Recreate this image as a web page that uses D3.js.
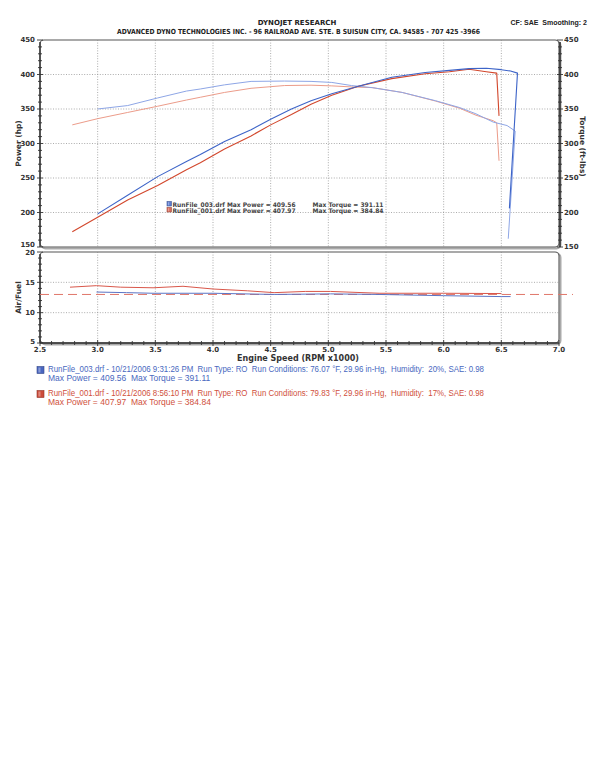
<!DOCTYPE html>
<html><head><meta charset="utf-8">
<script src="https://cdn.jsdelivr.net/npm/d3@7"></script>
<style>
html,body{margin:0;padding:0;background:#fff;}
svg text{font-family:"DejaVu Sans",Verdana,sans-serif;white-space:pre;}
</style></head>
<body><svg id="c" width="594" height="768"></svg>
<script>
// ---- data ----
const bluePowerRpm = [3.00,3.26,3.52,3.77,3.89,4.10,4.33,4.50,4.68,4.85,5.03,5.26,5.55,5.84,6.05,6.22,6.37,6.50,6.58,6.64,6.57];
const bluePowerHp  = [198,225,252,274,284,303,320,335,350,362,372,383,396,403,406,408.5,409,407,405,402,206];
const blueTorqueRpm= [3.00,3.26,3.52,3.77,3.89,4.10,4.33,4.62,4.85,5.03,5.20,5.38,5.64,5.93,6.14,6.28,6.43,6.55,6.62,6.56];
const blueTorque   = [350,355,366,376,379,385,390,390.5,390,388.5,384,381,374,362,352,343,331,326,318,162];
const redPowerRpm  = [2.78,3.00,3.26,3.52,3.77,3.89,4.10,4.33,4.50,4.68,4.85,5.03,5.26,5.55,5.84,6.05,6.22,6.37,6.46,6.48];
const redPowerHp   = [172,193,218,239,262,272,292,311,327,342,357,370,383,394,401,404,407.5,404,402,340];
const redTorqueRpm = [2.78,3.00,3.26,3.52,3.77,3.89,4.10,4.33,4.62,4.85,5.03,5.20,5.38,5.64,5.93,6.14,6.28,6.43,6.46,6.48];
const redTorque    = [327,336,345,354,363,367,374,380,384,384.5,383.5,382,381,374,361.5,351,341,333,330,275];
const blueAfrRpm   = [2.99,3.25,3.48,4.00,4.53,5.02,5.44,6.00,6.50,6.58];
const blueAfr      = [13.4,13.3,13.2,13.2,13.0,13.1,13.0,12.8,12.65,12.65];
const redAfrRpm    = [2.76,2.99,3.20,3.48,3.74,4.00,4.30,4.53,4.80,5.02,5.44,6.00,6.50];
const redAfr       = [14.2,14.45,14.2,14.1,14.35,13.9,13.6,13.3,13.5,13.5,13.2,13.2,13.15];
const afrTarget    = 13.0;
const powerTicks   = [150,200,250,300,350,400,450];
const afrTicks     = [5,10,15,20];
const rpmTicks     = [2.5,3.0,3.5,4.0,4.5,5.0,5.5,6.0,6.5,7.0];
const titleLines   = ["DYNOJET RESEARCH","ADVANCED DYNO TECHNOLOGIES INC. - 96 RAILROAD AVE. STE. B SUISUN CITY, CA. 94585 - 707 425 -3966"];
const cornerText   = "CF: SAE  Smoothing: 2";
const runNames     = ["RunFile_003.drf","RunFile_001.drf"];
const maxPower     = ["409.56","407.97"];
const maxTorque    = ["391.11","384.84"];
const runInfo      = ["RunFile_003.drf - 10/21/2006 9:31:26 PM  Run Type: RO  Run Conditions: 76.07 °F, 29.96 in-Hg,  Humidity:  20%, SAE: 0.98",
                      "RunFile_001.drf - 10/21/2006 8:56:10 PM  Run Type: RO  Run Conditions: 79.83 °F, 29.96 in-Hg,  Humidity:  17%, SAE: 0.98"];

// ---- layout ----
const svg = d3.select("#c");
const L=40, R=559, UT=40, UB=247, LT=252, LB=343;
const x = d3.scaleLinear().domain([2.5,7.0]).range([L,R]);
const yP = d3.scaleLinear().domain([150,450]).range([UB,UT]);
const yT = d3.scaleLinear().domain([150,450]).range([UB,UT]);
const yA = d3.scaleLinear().domain([5,20]).range([LB,LT]);

const BLUE="#3d64c8", BLUE_L="#8ea6e6", RED="#d2472c", RED_L="#ec9c8a";

// titles
svg.append("text").attr("x",297).attr("y",25).attr("text-anchor","middle")
  .attr("font-size",7).attr("font-weight","bold").attr("fill","#222").text(titleLines[0]);
svg.append("text").attr("x",117).attr("y",34).attr("textLength",363).attr("lengthAdjust","spacingAndGlyphs")
  .attr("font-size",7).attr("font-weight","bold").attr("fill","#222").text(titleLines[1]);
svg.append("text").attr("x",587).attr("y",25).attr("text-anchor","end")
  .style("font-family","'Liberation Sans',Arial,sans-serif")
  .attr("font-size",7).attr("font-weight","bold").attr("fill","#222").text(cornerText);

// panel frames
function frame(t,b){
  svg.append("rect").attr("x",L+1.5).attr("y",t+1.5).attr("width",R-L).attr("height",b-t)
    .attr("rx",4).attr("fill","none").attr("stroke","#aaa").attr("stroke-width",2);
  svg.append("rect").attr("x",L).attr("y",t).attr("width",R-L).attr("height",b-t)
    .attr("rx",4).attr("fill","#fff").attr("stroke","#555").attr("stroke-width",1.1);
}
frame(UT,UB); frame(LT,LB);

// grids
const grid = svg.append("g").attr("stroke","#888").attr("stroke-width",0.7).attr("stroke-dasharray","1,1.6");
rpmTicks.filter(v=>v>2.5&&v<7).forEach(v=>{
  grid.append("line").attr("x1",x(v)).attr("x2",x(v)).attr("y1",UT).attr("y2",UB);
  grid.append("line").attr("x1",x(v)).attr("x2",x(v)).attr("y1",LT).attr("y2",LB);
});
powerTicks.filter(v=>v>150&&v<450).forEach(v=>{
  grid.append("line").attr("x1",L).attr("x2",R).attr("y1",yP(v)).attr("y2",yP(v));
});
afrTicks.filter(v=>v>5&&v<20).forEach(v=>{
  grid.append("line").attr("x1",L).attr("x2",R).attr("y1",yA(v)).attr("y2",yA(v));
});

// axes
function tickAxis(g, scale, minorStep, majorVals, orient){
  const [d0,d1] = scale.domain();
  const n = Math.round((d1-d0)/minorStep);
  for(let i=0;i<=n;i++){
    const v=d0+i*minorStep, p=scale(v);
    const major = majorVals.some(m=>Math.abs(m-v)<1e-6);
    const len = major?3:2;
    if(orient==="v") g.append("line").attr("x1",-len).attr("x2",len).attr("y1",p).attr("y2",p);
    else g.append("line").attr("y1",-len).attr("y2",len).attr("x1",p).attr("x2",p);
  }
}
const axStyle = g=>g.attr("stroke","#333").attr("stroke-width",0.9);
let g = svg.append("g").attr("transform",`translate(${L},0)`).call(axStyle);
g.append("line").attr("y1",UT+2).attr("y2",UB).attr("stroke-width",1.4);
tickAxis(g,yP,10,powerTicks,"v");
g = svg.append("g").attr("transform",`translate(${R+1},0)`).call(axStyle);
g.append("line").attr("y1",UT+2).attr("y2",UB).attr("stroke-width",1.6);
tickAxis(g,yT,10,powerTicks,"v");
g = svg.append("g").attr("transform",`translate(${L},0)`).call(axStyle);
g.append("line").attr("y1",LT+2).attr("y2",LB).attr("stroke-width",1.4);
tickAxis(g,yA,1,afrTicks,"v");
g = svg.append("g").attr("transform",`translate(0,${LB})`).call(axStyle);
g.append("line").attr("x1",L).attr("x2",R).attr("stroke-width",1.4);
tickAxis(g,x,0.1,rpmTicks,"h");

// tick labels
const tl = svg.append("g").attr("font-size",7).attr("font-weight","bold").attr("fill","#333");
powerTicks.forEach(v=>{
  const off = v===150?-2.5:0;
  tl.append("text").attr("x",L-5).attr("y",yP(v)+off).attr("dy","0.35em").attr("text-anchor","end").text(v);
  tl.append("text").attr("x",R+5).attr("y",yT(v)).attr("dy","0.35em").attr("text-anchor","start").text(v);
});
afrTicks.forEach(v=>{
  const off = v===20?1:(v===5?-1:0);
  tl.append("text").attr("x",L-5).attr("y",yA(v)+off).attr("dy","0.35em").attr("text-anchor","end").text(v);
});
rpmTicks.forEach(v=>{
  tl.append("text").attr("x",x(v)).attr("y",LB+9).attr("text-anchor","middle").text(v.toFixed(1));
});

// axis titles
const at = svg.append("g").attr("font-size",7.5).attr("font-weight","bold").attr("fill","#333");
at.append("text").attr("transform",`translate(21,${(UT+UB)/2}) rotate(-90)`).attr("text-anchor","middle").text("Power (hp)");
at.append("text").attr("transform",`translate(580,${(UT+UB)/2+3}) rotate(90)`).attr("text-anchor","middle").text("Torque (ft-lbs)");
at.append("text").attr("transform",`translate(21,${(LT+LB)/2}) rotate(-90)`).attr("text-anchor","middle").text("Air/Fuel");
at.append("text").attr("x",298).attr("y",361).attr("text-anchor","middle").attr("font-size",8).text("Engine Speed (RPM x1000)");

// curves
const lineFn = (ys)=>d3.line().x(d=>x(d[0])).y(d=>ys(d[1]));
function curve(rpm, vals, ys, color, w, dash){
  const p = svg.append("path").datum(d3.zip(rpm,vals)).attr("d",lineFn(ys))
    .attr("fill","none").attr("stroke",color).attr("stroke-width",w).attr("stroke-linejoin","round");
  if(dash) p.attr("stroke-dasharray",dash);
}
curve(redTorqueRpm, redTorque, yT, RED_L, 1);
curve(blueTorqueRpm, blueTorque, yT, BLUE_L, 1);
curve(redPowerRpm, redPowerHp, yP, RED, 1.1);
curve(bluePowerRpm, bluePowerHp, yP, BLUE, 1.1);
// AFR
svg.append("line").attr("x1",L).attr("x2",R+14).attr("y1",yA(afrTarget)).attr("y2",yA(afrTarget))
  .attr("stroke","#e0776a").attr("stroke-width",1).attr("stroke-dasharray","9,5");
curve(redAfrRpm, redAfr, yA, "#d9574a", 1);
curve(blueAfrRpm, blueAfr, yA, "#5b74c4", 1);

// in-plot legend
function swatch(xp,yp,s,color){
  const gr = svg.append("g");
  gr.append("rect").attr("x",xp).attr("y",yp).attr("width",s).attr("height",s).attr("fill",color).attr("stroke",d3.color(color).darker(1)).attr("stroke-width",0.6);
  gr.append("rect").attr("x",xp+s*0.2).attr("y",yp+s*0.15).attr("width",s*0.3).attr("height",s*0.7).attr("fill","#fff").attr("opacity",0.35);
}
const lg = svg.append("g").attr("font-size",6.3).attr("font-weight","bold").attr("fill","#444");
[0,1].forEach(i=>{
  const yy = 206.5 + i*6;
  swatch(167, yy-5, 4.5, i===0?"#5b7bd0":"#d86a5a");
  lg.append("text").attr("x",172.5).attr("y",yy).attr("textLength",123).attr("lengthAdjust","spacingAndGlyphs")
    .text(`${runNames[i]} Max Power = ${maxPower[i]}`);
  lg.append("text").attr("x",312.5).attr("y",yy).attr("textLength",71).attr("lengthAdjust","spacingAndGlyphs")
    .text(`Max Torque = ${maxTorque[i]}`);
});

// bottom legend
const bl = svg.append("g").attr("font-size",8.5);
[0,1].forEach(i=>{
  const base = i===0?371.5:395.5;
  const col = i===0?"#4868c0":"#d0503c";
  swatch(37, base-5, 7, i===0?"#4a66c0":"#cc4b3a");
  bl.append("text").attr("x",48).attr("y",base).attr("fill",col).attr("textLength",436).attr("lengthAdjust","spacingAndGlyphs")
    .style("font-family","'Liberation Sans',Arial,sans-serif").style("white-space","pre").text(runInfo[i]);
  bl.append("text").attr("x",48).attr("y",base+9.5).attr("fill",col)
    .style("font-family","'Liberation Sans',Arial,sans-serif").style("white-space","pre").text(`Max Power = ${maxPower[i]}  Max Torque = ${maxTorque[i]}`);
});
</script></body></html>
